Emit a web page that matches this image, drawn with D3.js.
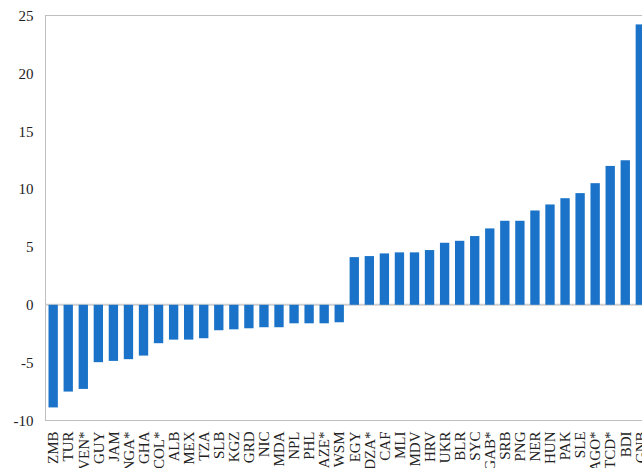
<!DOCTYPE html>
<html>
<head>
<meta charset="utf-8">
<script src="https://cdn.jsdelivr.net/npm/d3@7"></script>
<style>
  html, body { margin: 0; padding: 0; background: #fff; overflow: hidden; }
  svg { display: block; }
  text { font-family: "Liberation Serif", "Times New Roman", serif; fill: #222; }
</style>
</head>
<body>
<svg id="chart" width="642" height="468"></svg>
<script>
// Country codes, sorted by value
const countries = [
  "ZMB","TUR","VEN*","GUY","JAM","NGA*","GHA","COL*","ALB","MEX",
  "TZA","SLB","KGZ","GRD","NIC","MDA","NPL","PHL","AZE*","WSM",
  "EGY","DZA*","CAF","MLI","MDV","HRV","UKR","BLR","SYC","GAB*",
  "SRB","PNG","NER","HUN","PAK","SLE","AGO*","TCD*","BDI","GNB"
];
const values = [
  -8.87, -7.5, -7.27, -4.96, -4.85, -4.7, -4.39, -3.32, -3.01, -3.01,
  -2.89, -2.2, -2.12, -2.03, -1.94, -1.94, -1.6, -1.6, -1.6, -1.51,
  4.12, 4.21, 4.44, 4.53, 4.53, 4.73, 5.36, 5.53, 5.94, 6.6,
  7.26, 7.26, 8.15, 8.67, 9.21, 9.65, 10.51, 12.0, 12.49, 24.23
];
const yTicks = [-10, -5, 0, 5, 10, 15, 20, 25];

const svg = d3.select("#chart");
const plot = { left: 45.5, top: 15.5, bottom: 420.5, right: 648 };

const x = d3.scaleBand()
  .domain(countries)
  .range([plot.left, plot.right])
  .paddingInner(0.38)
  .paddingOuter(0.2);

const y = d3.scaleLinear()
  .domain([-10, 25])
  .range([plot.bottom, plot.top]);

// Plot frame
svg.append("rect")
  .attr("x", plot.left).attr("y", plot.top)
  .attr("width", plot.right - plot.left).attr("height", plot.bottom - plot.top)
  .attr("fill", "none").attr("stroke", "#bfbfbf").attr("stroke-width", 1);

// Zero line
svg.append("line")
  .attr("x1", plot.left).attr("x2", plot.right)
  .attr("y1", y(0)).attr("y2", y(0))
  .attr("stroke", "#d0d0d0").attr("stroke-width", 2);

// Bars
svg.append("g").selectAll("rect")
  .data(countries.map((c, i) => ({ c, v: values[i] })))
  .join("rect")
  .attr("x", d => x(d.c))
  .attr("width", x.bandwidth())
  .attr("y", d => y(Math.max(0, d.v)))
  .attr("height", d => Math.abs(y(d.v) - y(0)))
  .attr("fill", "#1a73c8");

// Y axis labels (plain hyphen for negatives)
const yAxis = d3.axisLeft(y).tickValues(yTicks).tickFormat(d => String(d))
  .tickSize(0).tickPadding(12);
const gy = svg.append("g").attr("transform", `translate(${plot.left},0)`).call(yAxis);
gy.select(".domain").remove();
gy.selectAll("text")
  .attr("font-family", "Liberation Serif, Times New Roman, serif")
  .attr("font-size", 15)
  .attr("fill", "#222");

// Category labels, rotated
const xAxis = d3.axisBottom(x).tickSize(0).tickPadding(0);
const gx = svg.append("g").attr("transform", `translate(0,${plot.bottom})`).call(xAxis);
gx.select(".domain").remove();
gx.selectAll("text")
  .attr("font-family", "Liberation Serif, Times New Roman, serif")
  .attr("font-size", 15)
  .attr("fill", "#222")
  .attr("text-anchor", "end")
  .attr("transform", "rotate(-90)")
  .attr("x", -11)
  .attr("y", 0)
  .attr("dy", "0.35em");
</script>
</body>
</html>
